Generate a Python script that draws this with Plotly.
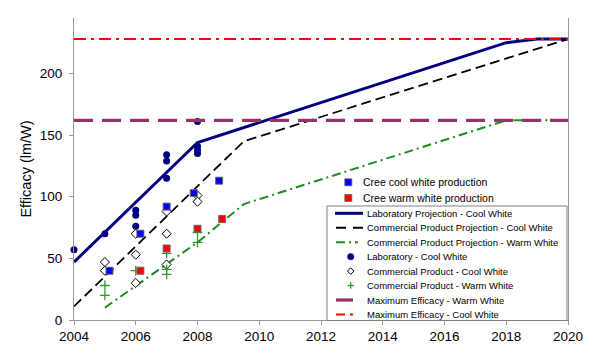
import plotly.graph_objects as go

# ---------------- data ----------------
proj_lab_years = [2004, 2008, 2018, 2019, 2020]
proj_lab_cool = [47, 144, 225, 228, 228]
proj_com_cool_years = [2004, 2009.5, 2020]
proj_com_cool = [11, 145, 228]
proj_com_warm_years = [2005, 2008, 2009.5, 2018, 2020]
proj_com_warm = [10, 63, 94, 162, 162]

lab_years = [2004, 2005, 2006, 2006, 2006, 2007, 2007, 2007, 2008, 2008, 2008, 2008]
lab_cool = [57, 70, 89, 85, 76, 134, 129, 115, 161, 141, 138, 135]

com_cool_years = [2005, 2005, 2006, 2006, 2006, 2007, 2007, 2007, 2008, 2008]
com_cool = [47, 40, 70, 53, 30, 88, 70, 45, 101, 96]

com_warm_years = [2005, 2005, 2006, 2007, 2007, 2007, 2008, 2008]
com_warm = [28, 20, 40, 54, 41, 37, 71, 63]

cree_cool_years = [2005.15, 2006.15, 2007.0, 2007.88, 2008.7]
cree_cool = [40, 70, 92, 103, 113]
cree_warm_years = [2006.15, 2007.0, 2008.0, 2008.8]
cree_warm = [40, 58, 74, 82]

max_years = [2004, 2020]
max_warm = [162, 162]
max_cool = [228, 228]

x_ticks = [2004, 2006, 2008, 2010, 2012, 2014, 2016, 2018, 2020]
y_ticks = [0, 50, 100, 150, 200]

legend_labels = [
    "Laboratory Projection - Cool White",
    "Commercial Product Projection - Cool White",
    "Commercial Product Projection - Warm White",
    "Laboratory - Cool White",
    "Commercial Product - Cool White",
    "Commercial Product - Warm White",
    "Maximum Efficacy - Warm White",
    "Maximum Efficacy - Cool White",
]
cree_labels = ["Cree cool white production", "Cree warm white production"]

# ---------------- colours / styles ----------------
NAVY = "#000080"
GREEN = "#2e9a2e"
DGREEN = "#1e8c1e"
PURPLE = "#993366"
RED = "#ff0000"
FONT = "Liberation Sans, Arial, sans-serif"

fig = go.Figure()

fig.add_trace(go.Scatter(x=proj_lab_years, y=proj_lab_cool, mode="lines",
                         line=dict(color=NAVY, width=3)))
fig.add_trace(go.Scatter(x=proj_com_cool_years, y=proj_com_cool, mode="lines",
                         line=dict(color="black", width=1.8, dash="10px,5px")))
fig.add_trace(go.Scatter(x=proj_com_warm_years, y=proj_com_warm, mode="lines",
                         line=dict(color=DGREEN, width=2, dash="9px,4px,2px,4px")))
fig.add_trace(go.Scatter(x=lab_years, y=lab_cool, mode="markers", cliponaxis=False,
                         marker=dict(symbol="circle", size=7, color=NAVY)))
fig.add_trace(go.Scatter(x=com_cool_years, y=com_cool, mode="markers", cliponaxis=False,
                         marker=dict(symbol="diamond", size=7, color="white",
                                     line=dict(color="black", width=1))))
fig.add_trace(go.Scatter(x=com_warm_years, y=com_warm, mode="markers", cliponaxis=False,
                         marker=dict(symbol="cross-thin-open", size=7, color=GREEN,
                                     line=dict(color=GREEN, width=1.3))))
fig.add_trace(go.Scatter(x=max_years, y=max_warm, mode="lines",
                         line=dict(color=PURPLE, width=3.2, dash="19px,9px")))
fig.add_trace(go.Scatter(x=max_years, y=max_cool, mode="lines",
                         line=dict(color=RED, width=2, dash="12px,5px,3px,5px")))
fig.add_trace(go.Scatter(x=cree_cool_years, y=cree_cool, mode="markers", cliponaxis=False,
                         marker=dict(symbol="square", size=7, color="#0000ff",
                                     line=dict(color="#666666", width=1))))
fig.add_trace(go.Scatter(x=cree_warm_years, y=cree_warm, mode="markers", cliponaxis=False,
                         marker=dict(symbol="square", size=7, color=RED,
                                     line=dict(color="#666666", width=1))))

# ---------------- manual legend (pixel -> paper helpers) ----------------
L, R, T, B = 74, 568, 18, 320
def px(x):
    return (x - L) / (R - L)
def py(y):
    return (B - y) / (B - T)

shapes = []
annotations = []

# legend box
shapes.append(dict(type="rect", xref="paper", yref="paper", layer="above",
                   x0=px(327), x1=px(567), y0=py(206), y1=py(320.5),
                   line=dict(color="#808080", width=1), fillcolor="white"))

row_y = [213.3 + k * 14.45 for k in range(len(legend_labels))]
for lbl, yy in zip(legend_labels, row_y):
    annotations.append(dict(xref="paper", yref="paper", x=px(365), y=py(yy),
                            xanchor="left", yanchor="middle", showarrow=False,
                            text=lbl, font=dict(family=FONT, size=9.5, color="black")))

def hline(x0, x1, yy, color, width, dash="solid"):
    shapes.append(dict(type="line", xref="paper", yref="paper", layer="above",
                       x0=px(x0), x1=px(x1), y0=py(yy), y1=py(yy),
                       line=dict(color=color, width=width, dash=dash)))

hline(335, 363, row_y[0], NAVY, 3)
hline(336, 364, row_y[1], "black", 1.8, "10px,7px")
hline(336, 358, row_y[2], DGREEN, 2, "9px,4px,2px,4px")
# circle
cx, r = 350.7, 3.2
shapes.append(dict(type="circle", xref="paper", yref="paper", layer="above",
                   x0=px(cx - r), x1=px(cx + r), y0=py(row_y[3] - r), y1=py(row_y[3] + r),
                   fillcolor=NAVY, line=dict(color=NAVY, width=0.5)))
# diamond
d = 3.3
yy = row_y[4]
shapes.append(dict(type="path", xref="paper", yref="paper", layer="above",
                   path=f"M {px(cx)},{py(yy - d)} L {px(cx + d)},{py(yy)} L {px(cx)},{py(yy + d)} L {px(cx - d)},{py(yy)} Z",
                   fillcolor="white", line=dict(color="black", width=1)))
# plus
p = 3.2
yy = row_y[5]
shapes.append(dict(type="line", xref="paper", yref="paper", layer="above",
                   x0=px(cx - p), x1=px(cx + p), y0=py(yy), y1=py(yy),
                   line=dict(color=GREEN, width=1.3)))
shapes.append(dict(type="line", xref="paper", yref="paper", layer="above",
                   x0=px(cx), x1=px(cx), y0=py(yy - p), y1=py(yy + p),
                   line=dict(color=GREEN, width=1.3)))
hline(336, 353, row_y[6], PURPLE, 3.2)
hline(336, 358, row_y[7], RED, 2, "9px,5px,3px,5px")

# Cree legend (no border)
cree_y = [182.3, 198.0]
cree_cols = ["#0000ff", RED]
for lbl, yy, col in zip(cree_labels, cree_y, cree_cols):
    s = 3.5
    shapes.append(dict(type="rect", xref="paper", yref="paper", layer="above",
                       x0=px(348.3 - s), x1=px(348.3 + s), y0=py(yy - s), y1=py(yy + s),
                       fillcolor=col, line=dict(color="#666666", width=0.8)))
    annotations.append(dict(xref="paper", yref="paper", x=px(361), y=py(yy),
                            xanchor="left", yanchor="middle", showarrow=False,
                            text=lbl, font=dict(family=FONT, size=10.5, color="black")))

axis_common = dict(showgrid=False, zeroline=False, showline=True, linecolor="#999999",
                   linewidth=1, ticks="outside", ticklen=4, tickcolor="#999999",
                   tickfont=dict(family=FONT, size=13.5, color="black"))

fig.update_layout(
    width=600, height=356,
    margin=dict(l=L, r=600 - R, t=T, b=356 - B),
    paper_bgcolor="white", plot_bgcolor="white",
    showlegend=False,
    xaxis=dict(range=[2004, 2020], tickvals=x_ticks, ticktext=[str(v) for v in x_ticks],
               **axis_common),
    yaxis=dict(range=[0, 245], tickvals=y_ticks, mirror=True, ticklabelstandoff=4,
               title=dict(text="Efficacy (lm/W)", standoff=4,
                          font=dict(family=FONT, size=14.5, color="black")),
               **axis_common),
    shapes=shapes,
    annotations=annotations,
)

fig.write_html("out.html", config={"displayModeBar": False})
with open("out.html", "r", encoding="utf-8") as f:
    html = f.read()
html = html.replace("<head>", "<head><style>html,body{margin:0;padding:0;}</style>", 1)
with open("out.html", "w", encoding="utf-8") as f:
    f.write(html)
